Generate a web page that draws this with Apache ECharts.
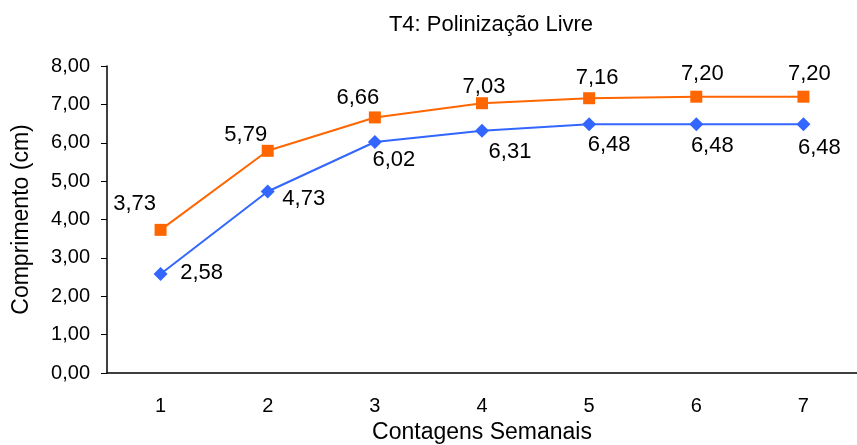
<!DOCTYPE html>
<html>
<head>
<meta charset="utf-8">
<script src="https://cdn.jsdelivr.net/npm/echarts@6/dist/echarts.min.js"></script>
<style>
  html, body { margin: 0; padding: 0; background: #fff; }
  #chart { width: 857px; height: 445px; }
</style>
</head>
<body>
<div id="chart"></div>
<script>
var weeks = ["1", "2", "3", "4", "5", "6", "7"];
var upperSeries = [3.73, 5.79, 6.66, 7.03, 7.16, 7.20, 7.20];
var lowerSeries = [2.58, 4.73, 6.02, 6.31, 6.48, 6.48, 6.48];

// label nudges (px), like Excel placed them
var upperOffsets = [[-26, -26], [-22, -16], [-17, -19], [2, -16], [8, -20], [6, -23], [6, -23]];
var lowerOffsets = [[41, -1], [36, 7], [19, 18], [28, 21], [20, 21], [16, 22], [16, 24]];

var fontFam = "'Liberation Sans', Arial, sans-serif";
var fmt = v => v.toFixed(2).replace(".", ",");

function withLabels(vals, offs) {
  return vals.map((v, i) => ({ value: v, label: { offset: offs[i] } }));
}

var chart = echarts.init(document.getElementById("chart"));
chart.setOption({
  animation: false,
  textStyle: { fontFamily: fontFam },
  title: {
    text: "T4: Polinização Livre",
    left: 486,
    textAlign: "center",
    top: 9,
    textStyle: { fontSize: 22, fontWeight: "normal", color: "#000", fontFamily: fontFam }
  },
  grid: { left: 107, right: 0, top: 66, bottom: 72, outerBoundsMode: "none", containLabel: false },
  xAxis: {
    type: "category",
    data: weeks,
    boundaryGap: true,
    name: "Contagens Semanais",
    nameLocation: "middle",
    nameGap: 48,
    nameTextStyle: { fontSize: 23, color: "#000" },
    axisLine: { lineStyle: { color: "#000", width: 1.5 } },
    axisTick: { length: 6, alignWithLabel: false, lineStyle: { color: "#000" } },
    axisLabel: { fontSize: 20, color: "#000", margin: 23 },
  },
  yAxis: {
    type: "value",
    min: 0,
    max: 8,
    interval: 1,
    name: "Comprimento (cm)",
    nameLocation: "middle",
    nameGap: 74,
    nameTextStyle: { fontSize: 23, color: "#000" },
    axisLine: { show: true, lineStyle: { color: "#000", width: 1.5 } },
    axisTick: { show: true, length: 6, lineStyle: { color: "#000" } },
    axisLabel: { fontSize: 20, color: "#000", margin: 17, formatter: fmt },
    splitLine: { show: false }
  },
  series: [
    {
      name: "upper",
      type: "line",
      data: withLabels(upperSeries, upperOffsets),
      symbol: "rect",
      symbolSize: 12,
      itemStyle: { color: "#FF6600" },
      lineStyle: { color: "#FF6600", width: 2 },
      label: { show: true, position: "inside", fontSize: 22, color: "#000", formatter: p => fmt(p.value) }
    },
    {
      name: "lower",
      type: "line",
      data: withLabels(lowerSeries, lowerOffsets),
      symbol: "diamond",
      symbolSize: 14,
      itemStyle: { color: "#3366FF" },
      lineStyle: { color: "#3366FF", width: 2 },
      label: { show: true, position: "inside", fontSize: 22, color: "#000", formatter: p => fmt(p.value) }
    }
  ]
});
</script>
</body>
</html>
